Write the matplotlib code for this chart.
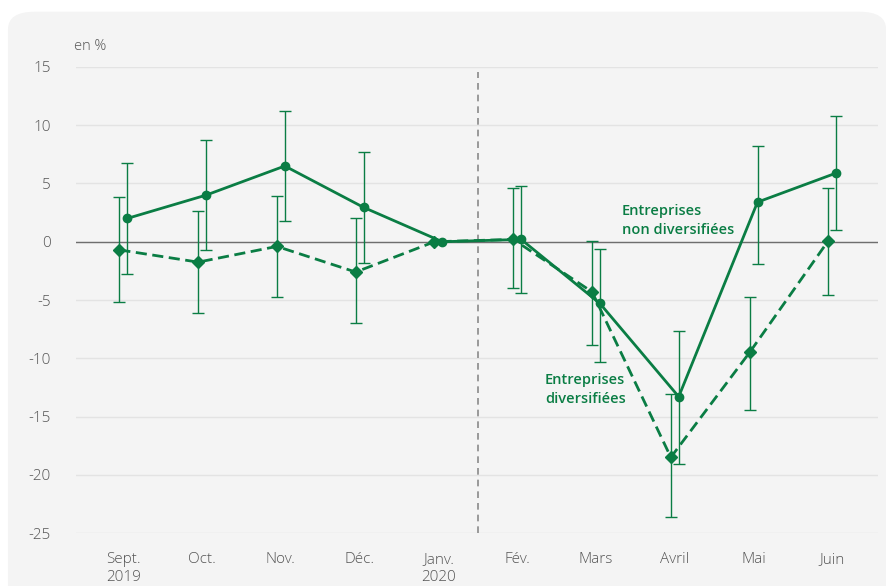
import numpy as np
import matplotlib.pyplot as plt
from matplotlib.patches import FancyBboxPatch

plt.rcParams['font.family'] = ['Open Sans', 'DejaVu Sans']
plt.rcParams['axes.unicode_minus'] = False

# Données
mois = ['Sept.\n2019', 'Oct.', 'Nov.', 'Déc.', 'Janv.\n2020', 'Fév.', 'Mars', 'Avril', 'Mai', 'Juin']

non_div = [2.0, 4.0, 6.5, 2.95, 0.0, 0.2, -5.3, -13.3, 3.4, 5.9]
non_div_haut = [6.8, 8.7, 11.2, 7.7, 0.0, 4.8, -0.6, -7.7, 8.2, 10.8]
non_div_bas = [-2.8, -0.7, 1.8, -1.8, 0.0, -4.4, -10.3, -19.1, -1.9, 1.0]

div = [-0.7, -1.75, -0.4, -2.6, 0.0, 0.2, -4.3, -18.5, -9.5, 0.1]
div_haut = [3.8, 2.6, 3.9, 2.0, 0.0, 4.6, 0.1, -13.1, -4.7, 4.6]
div_bas = [-5.2, -6.1, -4.7, -7.0, 0.0, -4.0, -8.9, -23.6, -14.4, -4.6]

vert = '#0a7d44'
gris_fond = '#f4f4f4'
gris_texte = '#555555'

fig = plt.figure(figsize=(8.87, 5.86), dpi=100)
fond = FancyBboxPatch((0.009, -0.05), 0.99, 1.03, boxstyle='round,pad=0,rounding_size=0.03',
                      transform=fig.transFigure, facecolor=gris_fond, edgecolor='none', zorder=-10)
fig.patches.append(fond)
ax = fig.add_axes([0.0857, 0.0904, 0.9042, 0.7953])
ax.set_facecolor(gris_fond)

x = np.arange(len(mois))
d = 0.05

def barres(xs, v, haut, bas):
    v, haut, bas = np.array(v), np.array(haut), np.array(bas)
    m = haut != bas
    ax.errorbar(xs[m], v[m], yerr=[v[m] - bas[m], haut[m] - v[m]], fmt='none',
                ecolor=vert, elinewidth=1, capsize=4, capthick=1, zorder=3)

barres(x + d, non_div, non_div_haut, non_div_bas)
barres(x - d, div, div_haut, div_bas)

ax.plot(x + d, non_div, color=vert, lw=2, marker='o', ms=6, zorder=4)
ax.plot(x - d, div, color=vert, lw=2, ls=(0, (4, 2)), marker='D', ms=6, zorder=4)

ax.axhline(0, color='#6e6e6e', lw=1, zorder=2)
ax.axvline(4.5, ymax=0.99, color='#8a8a8a', lw=1.2, ls=(0, (4, 3)), zorder=2)

ax.set_xlim(-0.6, 9.58)
ax.set_ylim(-25, 15)
ax.set_yticks(np.arange(-25, 16, 5))
ax.set_xticks(x)
ax.set_xticklabels(mois, linespacing=1.25)
ax.grid(axis='y', color='#e3e3e3', lw=1)
ax.set_axisbelow(True)
for s in ax.spines.values():
    s.set_visible(False)
ax.tick_params(length=0, labelsize=11, labelcolor=gris_texte)
ax.tick_params(axis='y', pad=18)
ax.tick_params(axis='x', pad=14)
for lab in ax.get_xticklabels() + ax.get_yticklabels():
    lab.set_fontweight('light')

ax.text(-0.62, 16.75, 'en %', fontsize=10.5, color=gris_texte, fontweight='light',
        ha='left', va='center')

ax.text(6.33, 1.8, 'Entreprises\nnon diversifiées', color=vert, fontsize=10.5, fontweight='semibold',
        ha='left', va='center', linespacing=1.45)
ax.text(5.35, -12.7, 'Entreprises\ndiversifiées', color=vert, fontsize=10.5, fontweight='semibold',
        ha='left', va='center', linespacing=1.45)

plt.savefig('out.png', dpi=100, facecolor='white')
